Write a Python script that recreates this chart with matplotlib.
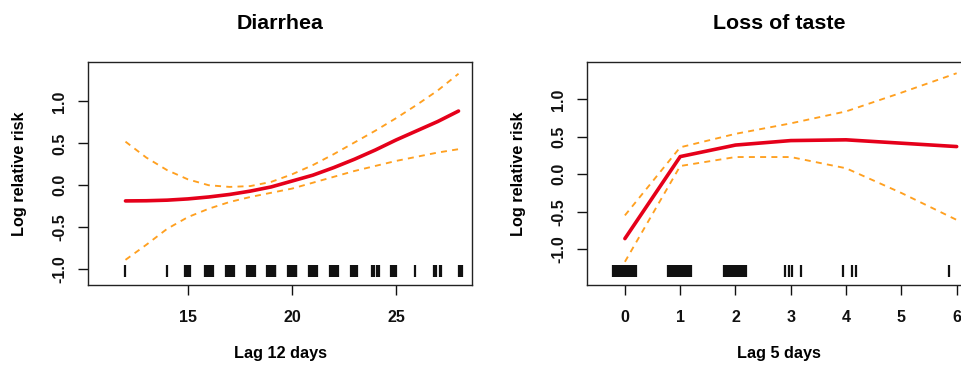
import matplotlib
matplotlib.use('Agg')
import matplotlib.pyplot as plt
from matplotlib.ticker import FixedLocator, FormatStrFormatter

plt.rcParams['font.family'] = ['Liberation Sans', 'DejaVu Sans']
plt.rcParams['font.weight'] = 'bold'
plt.rcParams['axes.labelweight'] = 'bold'
plt.rcParams['axes.titleweight'] = 'bold'

# Diarrhea, lag 12 days
lag_d = [12, 13, 14, 15, 16, 17, 18, 19, 20, 21, 22, 23, 24, 25, 26, 27, 28]
fit_d = [-0.187, -0.185, -0.178, -0.163, -0.14, -0.11, -0.07, -0.02, 0.05,
         0.12, 0.21, 0.31, 0.42, 0.54, 0.65, 0.76, 0.885]
upper_d = [0.52, 0.33, 0.18, 0.07, 0.0, -0.02, -0.01, 0.04, 0.13, 0.24, 0.37,
           0.51, 0.65, 0.80, 0.96, 1.13, 1.33]
lower_d = [-0.89, -0.71, -0.52, -0.38, -0.28, -0.20, -0.14, -0.09, -0.04,
           0.03, 0.10, 0.17, 0.23, 0.29, 0.34, 0.39, 0.43]
rug_d = [12.0, 14.0,
         14.86, 14.92, 14.98, 15.06, 15.1,
         15.82, 15.87, 15.92, 15.97, 16.02, 16.07, 16.12, 16.17, 16.2,
         16.82, 16.87, 16.92, 16.97, 17.02, 17.07, 17.12, 17.17, 17.2,
         17.82, 17.87, 17.92, 17.97, 18.02, 18.07, 18.12, 18.17, 18.2,
         18.82, 18.87, 18.92, 18.97, 19.02, 19.07, 19.12, 19.17, 19.2,
         19.82, 19.87, 19.92, 19.97, 20.02, 20.07, 20.12, 20.17, 20.2,
         20.82, 20.87, 20.92, 20.97, 21.02, 21.07, 21.12, 21.17, 21.2,
         21.82, 21.87, 21.92, 21.97, 22.02, 22.07, 22.12, 22.17, 22.2,
         22.84, 22.89, 22.95, 23.05, 23.12,
         23.85, 23.9, 23.96, 24.1, 24.16,
         24.76, 24.82, 24.9, 24.98,
         25.92,
         26.82, 26.88, 26.92, 27.12, 27.17,
         28.03, 28.1, 28.17]

# Loss of taste, lag 5 days
lag_t = [0, 1, 2, 3, 4, 5, 6]
fit_t = [-0.86, 0.236, 0.39, 0.45, 0.46, 0.415, 0.37]
upper_t = [-0.55, 0.36, 0.54, 0.68, 0.84, 1.09, 1.35]
lower_t = [-1.17, 0.11, 0.23, 0.23, 0.08, -0.25, -0.61]
rug_t = [-0.22, -0.19, -0.16, -0.13, -0.1, -0.07, -0.04, -0.01, 0.02, 0.05,
         0.08, 0.11, 0.14, 0.17, 0.2,
         0.78, 0.81, 0.84, 0.87, 0.9, 0.93, 0.96, 0.99, 1.02, 1.05, 1.08,
         1.11, 1.14, 1.17, 1.2,
         1.79, 1.82, 1.85, 1.88, 1.91, 1.94, 1.97, 2.0, 2.03, 2.06, 2.09,
         2.12, 2.15, 2.19,
         2.9, 2.97, 3.03, 3.18,
         3.95, 4.1, 4.18,
         5.87]

fig = plt.figure(figsize=(9.62, 3.66), dpi=100)
ax1 = fig.add_axes([0.0915, 0.2213, 0.3992, 0.6093])
ax2 = fig.add_axes([0.6105, 0.2213, 0.3989, 0.6093])

panels = [
    (ax1, 'Diarrhea', 'Lag 12 days', lag_d, fit_d, upper_d, lower_d, rug_d, -1.02,
     (10.2, 28.65), (-1.19, 1.47), [15, 20, 25]),
    (ax2, 'Loss of taste', 'Lag 5 days', lag_t, fit_t, upper_t, lower_t, rug_t, -1.29,
     (-0.68, 6.26), (-1.48, 1.50), [0, 1, 2, 3, 4, 5, 6]),
]

for ax, title, xlab, x, fit, up, lo, rug, rug_y, xlim, ylim, xt in panels:
    ax.plot(x, up, color='#FFA020', lw=1.35, dashes=(3.2, 2.8))
    ax.plot(x, lo, color='#FFA020', lw=1.35, dashes=(3.2, 2.8))
    ax.plot(x, fit, color='#E5001A', lw=2.6, solid_capstyle='round')
    ax.plot(rug, [rug_y] * len(rug), ls='none', marker='|', color='#111111',
            markersize=8.8, markeredgewidth=1.6)
    ax.set_xlim(*xlim)
    ax.set_ylim(*ylim)
    ax.xaxis.set_major_locator(FixedLocator(xt))
    ax.yaxis.set_major_locator(FixedLocator([-1.0, -0.5, 0.0, 0.5, 1.0]))
    ax.yaxis.set_major_formatter(FormatStrFormatter('%.1f'))
    ax.tick_params(axis='both', direction='out', length=7, width=1,
                   labelsize=11.5, colors='#111111')
    ax.tick_params(axis='x', pad=11)
    ax.tick_params(axis='y', pad=8, labelrotation=90)
    for lab in ax.get_yticklabels():
        lab.set_va('center')
    for sp in ax.spines.values():
        sp.set_linewidth(1.0)
        sp.set_color('#222222')
    ax.set_title(title, fontsize=15.4, pad=23.5)
    ax.set_xlabel(xlab, fontsize=11.7)
    ax.set_ylabel('Log relative risk', fontsize=11.7)
    ax.xaxis.set_label_coords(0.5, -0.275)
    ax.yaxis.set_label_coords(-0.16, 0.5)

fig.savefig('out.png', dpi=100)
